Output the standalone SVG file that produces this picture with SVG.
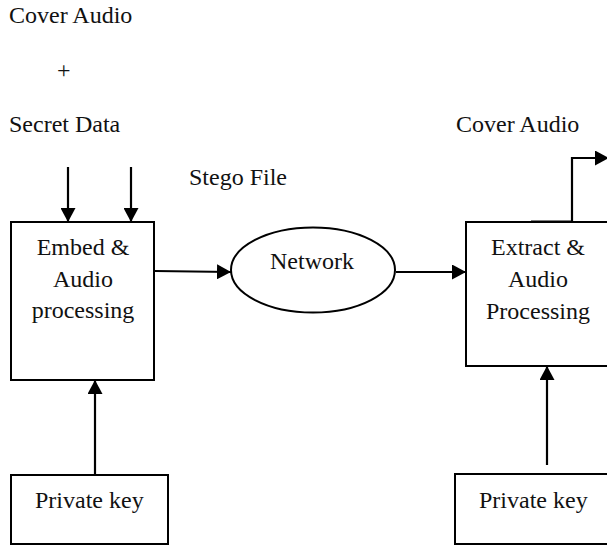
<svg xmlns="http://www.w3.org/2000/svg" width="607" height="546" viewBox="0 0 607 546">
<style>
text{font-family:'Liberation Serif','DejaVu Serif',serif;font-size:24px;fill:#111}
.c{text-anchor:middle}
.b{fill:#fff;stroke:#000;stroke-width:2}
.l{fill:none;stroke:#000;stroke-width:2.2}
.a{marker-end:url(#ah)}
</style>
<defs>
<marker id="ah" markerWidth="15" markerHeight="15" refX="14" refY="7.5" orient="auto" markerUnits="userSpaceOnUse">
<path d="M0,0 L14,7.5 L0,15 Z" fill="#000"/>
</marker>
</defs>
<rect width="607" height="546" fill="#fff"/>
<g id="labels" font-family="Liberation Serif, serif">
<text x="9" y="23">Cover Audio</text>
<text x="57" y="78">+</text>
<text x="9" y="132">Secret Data</text>
<text x="189" y="185">Stego File</text>
<text x="456" y="132">Cover Audio</text>
</g>
<g id="embed">
<rect class="b" x="11" y="222" width="143" height="158"/>
<text class="c" x="83" y="255">Embed &amp;</text>
<text class="c" x="83" y="287">Audio</text>
<text class="c" x="83" y="318">processing</text>
</g>
<g id="network">
<ellipse class="b" cx="313" cy="270" rx="82" ry="42.5"/>
<text class="c" x="312" y="269">Network</text>
</g>
<g id="extract">
<rect class="b" x="466" y="222" width="146" height="144"/>
<text class="c" x="538" y="255">Extract &amp;</text>
<text class="c" x="538" y="287">Audio</text>
<text class="c" x="538" y="319">Processing</text>
</g>
<g id="key1">
<rect class="b" x="11" y="475" width="157" height="69"/>
<text x="35" y="508">Private key</text>
</g>
<g id="key2">
<rect class="b" x="455" y="474" width="160" height="70"/>
<text x="479" y="508">Private key</text>
</g>
<g id="connectors">
<line class="l a" x1="68" y1="167" x2="68" y2="222"/>
<line class="l a" x1="131" y1="167" x2="131" y2="222"/>
<line class="l a" x1="155" y1="271" x2="231" y2="272"/>
<line class="l a" x1="396" y1="272" x2="466" y2="272"/>
<line class="l a" x1="95" y1="475" x2="95" y2="380"/>
<line class="l a" x1="547" y1="465" x2="547" y2="366"/>
<path class="l a" d="M572,222 V158 H609"/>
<line class="l" x1="531" y1="221.5" x2="572" y2="221.5" stroke-width="3"/>
</g>
</svg>
